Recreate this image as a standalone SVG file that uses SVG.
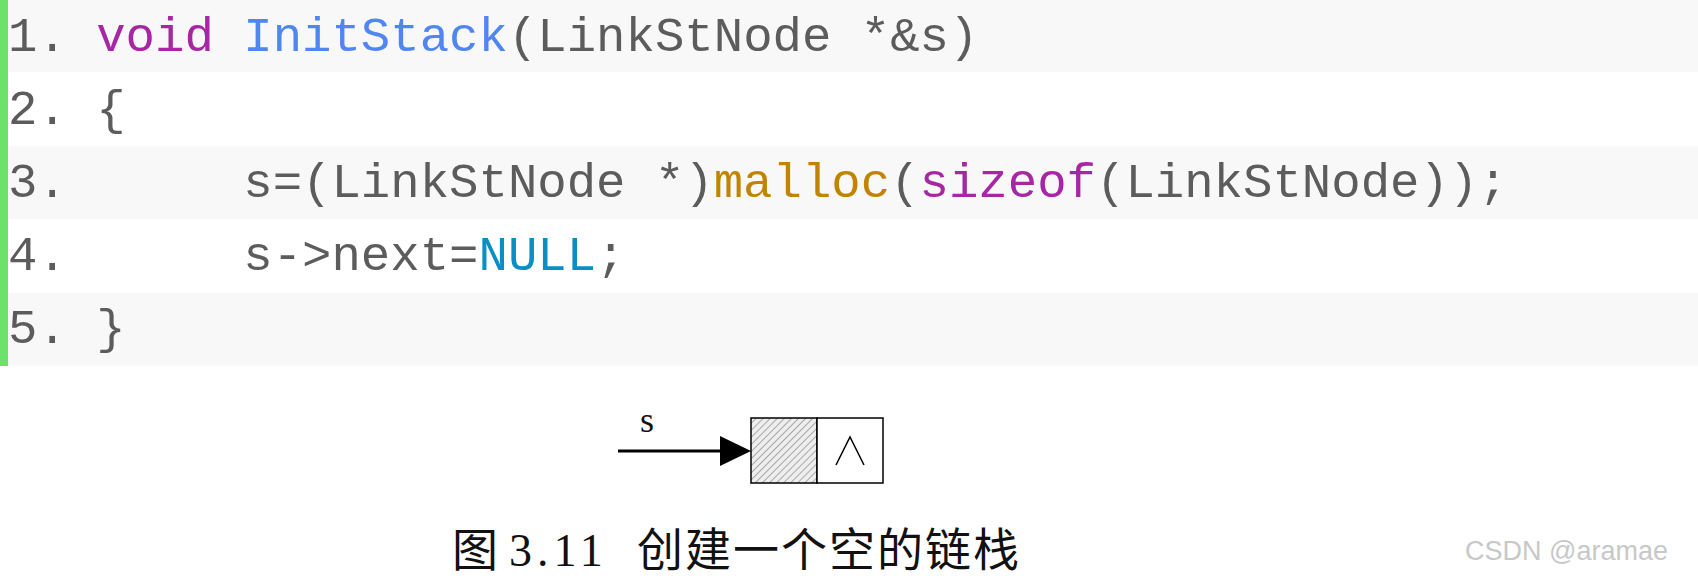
<svg xmlns="http://www.w3.org/2000/svg" width="1698" height="581" viewBox="0 0 1698 581">
<style>
.code{font-family:"Liberation Mono",monospace;font-size:49px;fill:#5c5c5c;white-space:pre}
.kw{fill:#a626a4}.fn{fill:#4f86f2}.bi{fill:#c18401}.nu{fill:#0a8fc4}
.cap{font-family:"Liberation Serif","Noto Sans CJK SC",serif;fill:#111}
</style>
<defs>
<pattern id="hatch" width="5" height="5" patternUnits="userSpaceOnUse" patternTransform="rotate(45)">
<rect width="5" height="5" fill="#eee"/><line x1="0" y1="0" x2="0" y2="5" stroke="#777" stroke-width="1.2"/>
</pattern>
</defs>
<rect width="1698" height="581" fill="#fff"/>
<g id="code">
<rect x="0" y="0" width="1698" height="72" fill="#f8f8f8"/>
<rect x="0" y="146" width="1698" height="73" fill="#f8f8f8"/>
<rect x="0" y="293" width="1698" height="73" fill="#f8f8f8"/>
<rect x="0" y="0" width="8" height="366" fill="#6ce26c"/>
<text class="code" x="8" y="51">1. <tspan class="kw">void</tspan> <tspan class="fn">InitStack</tspan>(LinkStNode *&amp;s)</text>
<text class="code" x="8" y="124">2. {</text>
<text class="code" x="8" y="197">3.      s=(LinkStNode *)<tspan class="bi">malloc</tspan>(<tspan class="kw">sizeof</tspan>(LinkStNode));</text>
<text class="code" x="8" y="270">4.      s-&gt;next=<tspan class="nu">NULL</tspan>;</text>
<text class="code" x="8" y="343">5. }</text>
</g>
<g id="node">
<rect x="751" y="418" width="66" height="65" fill="url(#hatch)" stroke="#000" stroke-width="1.5"/>
<rect x="817" y="418" width="66" height="65" fill="#fff" stroke="#000" stroke-width="1.5"/>
<polyline points="836,465 850,437 864,465" fill="none" stroke="#000" stroke-width="1.5"/>
</g>
<g id="connectors">
<line x1="618" y1="451" x2="722" y2="451" stroke="#000" stroke-width="3"/>
<path d="M720,436 L751,451 L720,466 Z" fill="#000"/>
</g>
<text x="640" y="432" class="cap" font-size="36">s</text>
<text y="566" class="cap" font-size="46"><tspan x="452">图</tspan><tspan x="509" letter-spacing="5">3.11</tspan><tspan x="637" letter-spacing="2">创建一个空的链栈</tspan></text>
<text x="1465" y="560" font-family="Liberation Sans,sans-serif" font-size="27" fill="#c8c8c8">CSDN @aramae</text>
</svg>
